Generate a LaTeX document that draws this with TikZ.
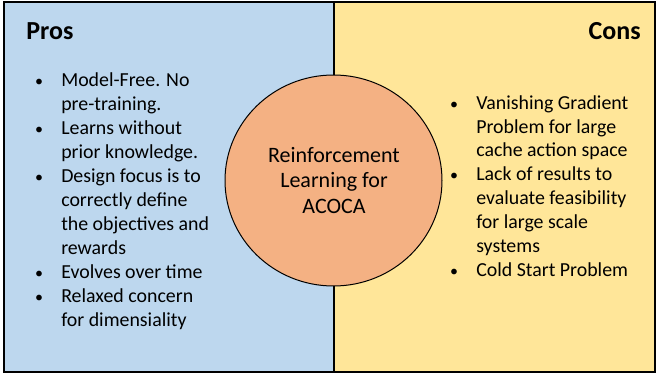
\documentclass[tikz,border=0pt]{standalone}
\usepackage{fontspec}
\setmainfont{Carlito}
\usepackage{tikz}

\definecolor{prosblue}{RGB}{189,215,238}
\definecolor{consyellow}{RGB}{255,230,153}
\definecolor{rlorange}{RGB}{244,177,131}

\begin{document}
\begin{tikzpicture}[x=0.75pt,y=0.75pt,yscale=-1,xscale=1]
    \path[use as bounding box] (0,0) rectangle (657,374);
    \tikzset{
      body/.style={inner sep=0pt, anchor=base west, font=\fontsize{14.9}{17.9}\selectfont},
      dot/.style={inner sep=0pt, anchor=base, font=\fontsize{12}{14}\selectfont},
      head/.style={inner sep=0pt, font=\bfseries\fontsize{19.5}{23}\selectfont},
      centre/.style={inner sep=0pt, anchor=base, font=\fontsize{16.5}{19.5}\selectfont}
    }

    %Shape: Rectangle
    \draw [line width=1.1pt, fill=prosblue] (4,2) rectangle (334,372) ;
    %Shape: Rectangle
    \draw [line width=1.1pt, fill=consyellow] (334,2) rectangle (655,372) ;
    %Shape: Ellipse
    \draw [line width=0.75pt, fill=rlorange] (333.5,180.5) ellipse [x radius=108.5, y radius=105.5] ;

    % Text Node
    \node [head, anchor=base west] (pros) at (26,40) {Pros};
    % Text Node
    \node [head, anchor=base east] (cons) at (641,40) {Cons};

    % Text Node
    \node [centre] (rl1) at (334,162.3) {Reinforcement};
    \node [centre] (rl2) at (334,187.3) {Learning for};
    \node [centre] (rl3) at (334,213.3) {ACOCA};

    % Text Node
    \node [dot] (pd1) at (39,87) {•};
    \node [body] (p1a) at (61,87) {Model-Free. No};
    \node [body] (p1b) at (61,110.9) {pre-training.};
    % Text Node
    \node [dot] (pd2) at (39,134.8) {•};
    \node [body] (p2a) at (61,134.8) {Learns without};
    \node [body] (p2b) at (61,158.7) {prior knowledge.};
    % Text Node
    \node [dot] (pd3) at (39,182.6) {•};
    \node [body] (p3a) at (61,182.6) {Design focus is to};
    \node [body] (p3b) at (61,206.5) {correctly define};
    \node [body] (p3c) at (61,230.4) {the objectives and};
    \node [body] (p3d) at (61,254.3) {rewards};
    % Text Node
    \node [dot] (pd4) at (39,278.2) {•};
    \node [body] (p4a) at (61,278.2) {Evolves over time};
    % Text Node
    \node [dot] (pd5) at (39,302.1) {•};
    \node [body] (p5a) at (61,302.1) {Relaxed concern};
    \node [body] (p5b) at (61,326) {for dimensiality};

    % Text Node
    \node [dot] (cd1) at (454,110) {•};
    \node [body] (c1a) at (476,110) {Vanishing Gradient};
    \node [body] (c1b) at (476,133.5) {Problem for large};
    \node [body] (c1c) at (476,157) {cache action space};
    % Text Node
    \node [dot] (cd2) at (454,180.8) {•};
    \node [body] (c2a) at (476,180.8) {Lack of results to};
    \node [body] (c2b) at (476,204.6) {evaluate feasibility};
    \node [body] (c2c) at (476,228.4) {for large scale};
    \node [body] (c2d) at (476,252.2) {systems};
    % Text Node
    \node [dot] (cd3) at (454,276.5) {•};
    \node [body] (c3a) at (476,276.5) {Cold Start Problem};
\end{tikzpicture}
\end{document}
